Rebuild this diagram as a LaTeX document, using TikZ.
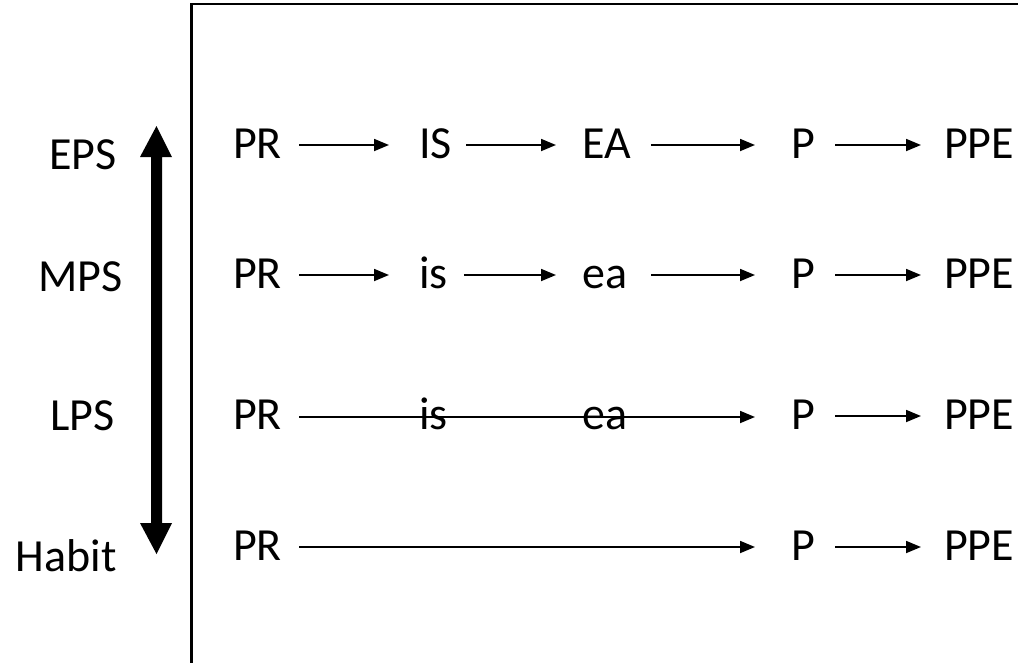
\documentclass[tikz,border=0pt]{standalone}
\usepackage{fontspec}
\setmainfont{Carlito}
\usetikzlibrary{arrows.meta}
\begin{document}
\begin{tikzpicture}[x=1pt,y=-1pt,
  txt/.style={inner sep=0pt, font=\fontsize{46}{50}\selectfont},
  flow/.style={line width=1.8pt, -{Triangle[length=15pt,width=12pt]}},
]
\useasboundingbox (0,0) rectangle (1018,662);
\clip (0,0) rectangle (1018,662);

% open frame around the sequences
\draw[line width=2.5pt] (191.5,670) -- (191.5,4) -- (1030,4);

% level labels
\node[txt, anchor=base east] (eps)   at (117,169) {EPS};
\node[txt, anchor=base east] (mps)   at (123,291) {MPS};
\node[txt, anchor=base east] (lps)   at (115,430) {LPS};
\node[txt, anchor=base east] (habit) at (117,571) {Habit};

% two-headed vertical arrow
\fill (151,157) -- (140,157) -- (156.5,126) -- (172,157) -- (162,157)
   -- (162,523) -- (172,523) -- (156.5,554) -- (140,523) -- (151,523) -- cycle;

% row 1
\node[txt, anchor=base west] (pr1)  at (233,158) {PR};
\node[txt, anchor=base west] (is1)  at (419,158) {IS};
\node[txt, anchor=base west] (ea1)  at (582,158) {EA};
\node[txt, anchor=base west] (p1)   at (791,158) {P};
\node[txt, anchor=base west] (ppe1) at (944,158) {PPE};
\draw[flow] ([shift={(17pt,13pt)}]pr1.base east) -- ([shift={(-30pt,13pt)}]is1.base west);
\draw[flow] ([shift={(14pt,13pt)}]is1.base east) -- ([shift={(-26pt,13pt)}]ea1.base west);
\draw[flow] ([shift={(20pt,13pt)}]ea1.base east) -- ([shift={(-36pt,13pt)}]p1.base west);
\draw[flow] ([shift={(20pt,13pt)}]p1.base east)  -- ([shift={(-23pt,13pt)}]ppe1.base west);

% row 2
\node[txt, anchor=base west] (pr2)  at (233,288) {PR};
\node[txt, anchor=base west] (is2)  at (419,288) {is};
\node[txt, anchor=base west] (ea2)  at (582,288) {ea};
\node[txt, anchor=base west] (p2)   at (791,288) {P};
\node[txt, anchor=base west] (ppe2) at (944,288) {PPE};
\draw[flow] ([shift={(17pt,13pt)}]pr2.base east) -- ([shift={(-30pt,13pt)}]is2.base west);
\draw[flow] ([shift={(16pt,13pt)}]is2.base east) -- ([shift={(-26pt,13pt)}]ea2.base west);
\draw[flow] ([shift={(24pt,13pt)}]ea2.base east) -- ([shift={(-36pt,13pt)}]p2.base west);
\draw[flow] ([shift={(20pt,13pt)}]p2.base east)  -- ([shift={(-23pt,13pt)}]ppe2.base west);

% row 3
\node[txt, anchor=base west] (pr3)  at (233,429) {PR};
\node[txt, anchor=base west] (is3)  at (419,429) {is};
\node[txt, anchor=base west] (ea3)  at (582,429) {ea};
\node[txt, anchor=base west] (p3)   at (791,429) {P};
\node[txt, anchor=base west] (ppe3) at (944,429) {PPE};
\draw[flow] ([shift={(17pt,12pt)}]pr3.base east) -- ([shift={(-36pt,12pt)}]p3.base west);
\draw[flow] ([shift={(20pt,13pt)}]p3.base east)  -- ([shift={(-23pt,13pt)}]ppe3.base west);

% row 4
\node[txt, anchor=base west] (pr4)  at (233,560) {PR};
\node[txt, anchor=base west] (p4)   at (791,560) {P};
\node[txt, anchor=base west] (ppe4) at (944,560) {PPE};
\draw[flow] ([shift={(17pt,13pt)}]pr4.base east) -- ([shift={(-36pt,13pt)}]p4.base west);
\draw[flow] ([shift={(20pt,13pt)}]p4.base east)  -- ([shift={(-23pt,13pt)}]ppe4.base west);
\end{tikzpicture}
\end{document}
